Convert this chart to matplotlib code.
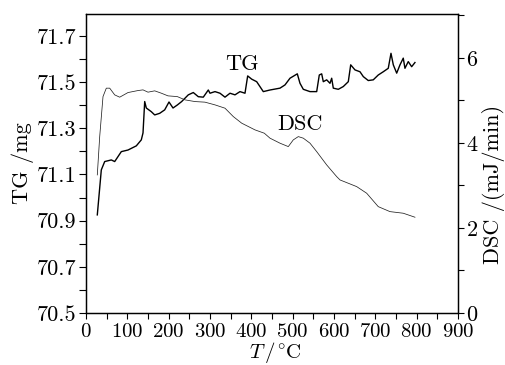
import numpy as np
import matplotlib
matplotlib.use('Agg')
import matplotlib.pyplot as plt
from matplotlib.ticker import FixedLocator, MultipleLocator

plt.rcParams['font.family'] = 'cmr10'
plt.rcParams['mathtext.fontset'] = 'cm'
plt.rcParams['axes.formatter.use_mathtext'] = True

# TG curve (temperature in C, mass in mg)
tg_t = [27.3, 37.0, 45.2, 61.2, 69.4, 85.4, 101.6, 121.7, 133.8, 137.9, 142.0, 145.9,
        158.0, 166.2, 178.3, 190.4, 200.8, 210.5, 220.9, 231.5, 247.5, 259.6, 271.7,
        283.8, 295.9, 300.0, 312.1, 324.2, 336.3, 348.4, 360.5, 372.6, 384.7, 391.2,
        400.9, 413.0, 429.0, 445.2, 469.4, 481.5, 493.6, 511.3, 517.8, 525.8, 542.0,
        558.2, 564.5, 570.3, 574.2, 582.4, 590.4, 594.5, 598.4, 610.5, 622.6, 634.7,
        640.5, 650.9, 663.0, 671.0, 683.0, 695.1, 707.2, 719.3, 731.4, 738.0, 743.6,
        751.8, 759.8, 767.7, 771.8, 779.8, 788.0, 796.0]
tg_m = [70.925, 71.120, 71.156, 71.163, 71.156, 71.199, 71.206, 71.224, 71.250, 71.280,
        71.416, 71.388, 71.372, 71.358, 71.365, 71.380, 71.414, 71.388, 71.401, 71.416,
        71.445, 71.455, 71.437, 71.435, 71.466, 71.452, 71.459, 71.452, 71.435, 71.452,
        71.445, 71.459, 71.452, 71.527, 71.513, 71.502, 71.459, 71.466, 71.474, 71.488,
        71.517, 71.536, 71.495, 71.469, 71.459, 71.459, 71.531, 71.536, 71.502, 71.510,
        71.495, 71.517, 71.474, 71.469, 71.481, 71.502, 71.575, 71.553, 71.545, 71.524,
        71.507, 71.510, 71.531, 71.545, 71.560, 71.625, 71.575, 71.539, 71.575, 71.604,
        71.560, 71.589, 71.567, 71.585]

# DSC curve (temperature in C, heat flow in mJ/min)
dsc_t = [27.3, 33.1, 41.1, 49.1, 57.3, 69.4, 81.5, 101.6, 125.8, 137.9, 150.0, 166.2,
         182.2, 198.4, 220.9, 239.5, 263.7, 287.9, 312.1, 336.3, 356.4, 376.7, 408.9,
         431.4, 445.2, 469.4, 489.5, 501.6, 513.7, 525.8, 542.0, 558.2, 582.4, 606.6,
         614.6, 655.0, 679.2, 707.2, 735.5, 767.7, 796.0]
dsc_v = [3.247, 4.148, 5.089, 5.287, 5.287, 5.129, 5.075, 5.184, 5.231, 5.247, 5.193,
         5.224, 5.169, 5.106, 5.089, 5.012, 4.972, 4.958, 4.894, 4.816, 4.619, 4.464,
         4.306, 4.228, 4.111, 3.993, 3.913, 4.071, 4.148, 4.111, 3.993, 3.795, 3.482,
         3.207, 3.129, 2.972, 2.816, 2.501, 2.384, 2.346, 2.252]

tg_major = [70.5, 70.7, 70.9, 71.1, 71.3, 71.5, 71.7]
tg_minor = [70.6, 70.8, 71.0, 71.2, 71.4, 71.6]

fig = plt.figure(figsize=(5.06, 3.65), dpi=100)
ax = fig.add_axes([0.170, 0.1425, 0.735, 0.819])
ax2 = ax.twinx()

ax.plot(tg_t, tg_m, color='black', lw=1.0)
ax2.plot(dsc_t, dsc_v, color='#222222', lw=0.55)

ax.set_xlim(0, 900)
ax.set_ylim(70.5, 71.795)
ax2.set_ylim(0, 7.03)

ax.xaxis.set_major_locator(MultipleLocator(100))
ax.xaxis.set_minor_locator(MultipleLocator(50))
ax.yaxis.set_major_locator(FixedLocator(tg_major))
ax.yaxis.set_minor_locator(FixedLocator(tg_minor))
ax.set_yticklabels([f'{v:.1f}' for v in tg_major])
ax2.yaxis.set_major_locator(MultipleLocator(2))
ax2.yaxis.set_minor_locator(MultipleLocator(1))

for a in (ax, ax2):
    a.tick_params(which='both', direction='out', length=4, width=0.8, labelsize=16, pad=2)
    for s in a.spines.values():
        s.set_linewidth(0.9)
ax.tick_params(axis='y', which='both', length=5)
ax.tick_params(axis='x', labelsize=15, pad=3.5)

ax.set_xlabel(r'$T\,/^{\circ}\mathrm{C}$', fontsize=15)
ax.xaxis.set_label_coords(0.51, -0.092)
ax.set_ylabel('TG /mg', fontsize=16, labelpad=2)
ax2.set_ylabel('DSC /(mJ/min)', fontsize=16)
ax2.yaxis.set_label_coords(1.065, 0.43)

ax.text(377, 71.579, 'TG', fontsize=16, ha='center', va='center')
ax.text(518, 71.319, 'DSC', fontsize=16, ha='center', va='center')

fig.savefig('out.png', dpi=100)
